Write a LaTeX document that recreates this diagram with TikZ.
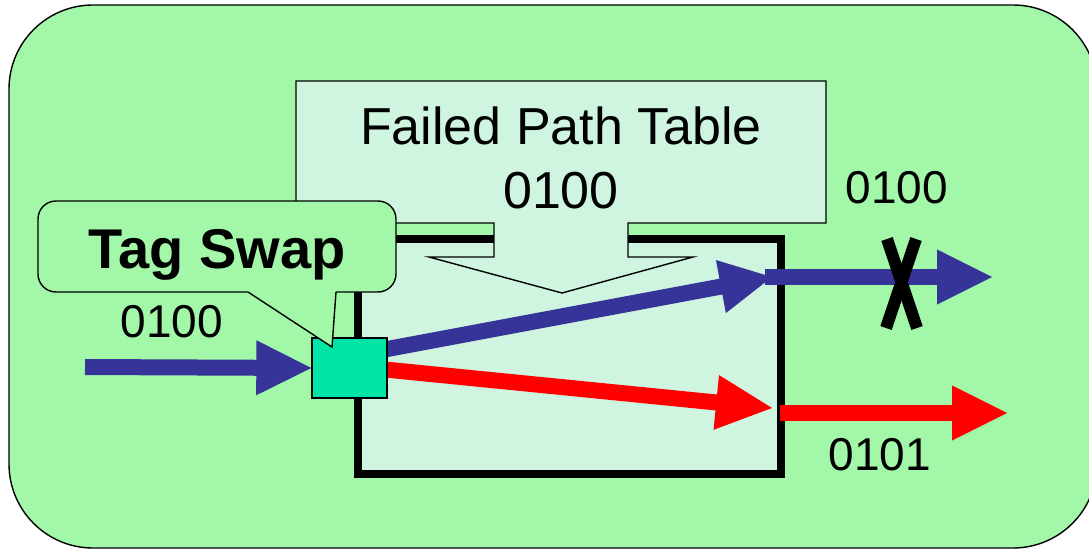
\documentclass[tikz,border=0pt]{standalone}
\usepackage{fontspec}
\setmainfont{Liberation Sans}
\usetikzlibrary{calc}

\definecolor{panel}{RGB}{163,247,168}
\definecolor{pale}{RGB}{207,245,224}
\definecolor{swapgreen}{RGB}{0,229,165}
\definecolor{pathblue}{RGB}{54,52,153}
\definecolor{pathred}{RGB}{255,0,0}

% thick shaft plus a filled triangular head: colour, from, to, head length, half head width
\newcommand\flowarrow[5]{%
  \coordinate (fa-base) at ($(#3)!#4!(#2)$);
  \draw[line width=16pt,#1] (#2) -- ($(#3)!#4-3pt!(#2)$);
  \fill[#1] (#3) -- ($(fa-base)!#5!90:(#3)$) -- ($(fa-base)!#5!-90:(#3)$) -- cycle;
}

\tikzset{
  thinline/.style={draw=black,line width=1.4pt},
  lbl/.style={anchor=base,inner sep=0pt,font=\fontsize{46}{52}\selectfont},
  tbltext/.style={anchor=base,inner sep=0pt,font=\fontsize{52}{58}\selectfont},
  swapbox/.style={thinline,fill=swapgreen,minimum width=75pt,minimum height=60pt,inner sep=0pt},
  xstroke/.style={line width=12pt,black},
}

\begin{document}
\begin{tikzpicture}[x=1pt,y=-1pt]
\useasboundingbox (0,0) rectangle (1089,551);

% outer panel
\draw[thinline,fill=panel,rounded corners=84pt] (9,5) rectangle (1097,548);

% router box with heavy frame
\node[draw=black,line width=8pt,fill=pale,minimum width=423.5pt,minimum height=235pt,inner sep=0pt]
  (router) at (569.25,356) {};

% failed path table: down-arrow callout
\draw[thinline,fill=pale]
  (296,81) -- (826,81) -- (826,223) -- (628,223) -- (628,257) -- (693,257)
  -- (562,293) -- (429,257) -- (494,257) -- (494,223) -- (296,223) -- cycle;
\node[tbltext] (fpt) at (561,144) {Failed Path Table};
\node[tbltext] (fptcode) at (561,208) {0100};

% swap element and path end points
\node[swapbox] (swap) at (349.5,368) {};
\coordinate (src) at (85,367);
\coordinate (bluefrom) at (350,356);
\coordinate (blueto) at (772,277);
\coordinate (redfrom) at (350,366);
\coordinate (redto) at (772,408);
\coordinate (blueout) at (765,277);
\coordinate (bluefar) at (992,277);
\coordinate (redout) at (780,413);
\coordinate (redfar) at (1007,413);

% paths through the router
\flowarrow{pathblue}{bluefrom}{blueto}{52pt}{27pt}
\flowarrow{pathred}{redfrom}{redto}{56pt}{27.5pt}
\flowarrow{pathblue}{src}{swap.west}{55pt}{27.5pt}
\flowarrow{pathblue}{blueout}{bluefar}{55pt}{27.5pt}
\flowarrow{pathred}{redout}{redfar}{55pt}{27.5pt}

% failed link mark
\coordinate (xa) at (887,239);
\coordinate (xb) at (917,328);
\coordinate (xc) at (916,239);
\coordinate (xd) at (886,328);
\draw[xstroke] (xa) -- (xb);
\draw[xstroke] (xc) -- (xd);

% redraw swap element above the shafts
\node[swapbox] (swapTop) at (swap) {};

% tag swap callout
\draw[thinline,fill=panel,rounded corners=18pt] (38,201) rectangle (396,292);
\fill[panel] (248.5,289.5) -- (335.8,289.5) -- (335.8,292) -- (332,347) -- (248,292) -- cycle;
\draw[thinline,line join=miter] (248,292) -- (332,347) -- (336,292);
\node[anchor=base,inner sep=0pt,font=\fontsize{56}{62}\selectfont\bfseries] (tagswap) at (217,268) {Tag Swap};

% labels
\node[lbl] (inlabel) at (172,337) {0100};
\node[lbl] (bluelabel) at (897,203) {0100};
\node[lbl] (redlabel) at (880,470) {0101};
\end{tikzpicture}
\end{document}
